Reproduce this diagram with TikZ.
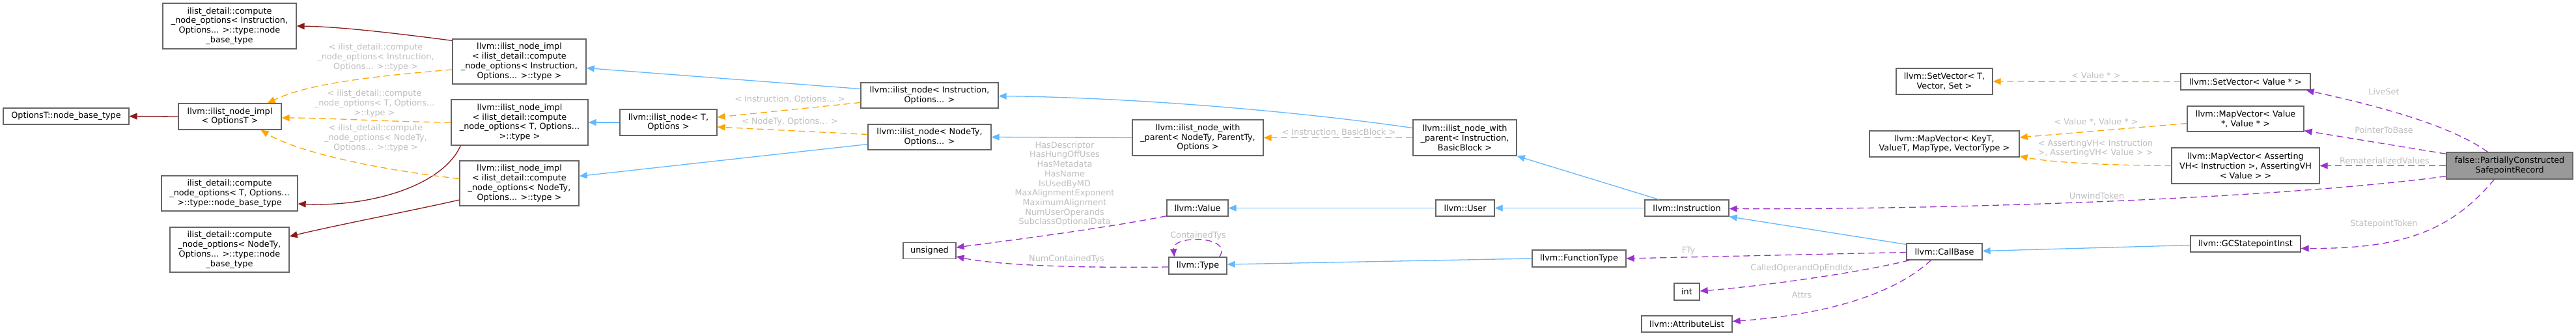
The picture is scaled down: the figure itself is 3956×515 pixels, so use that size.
\documentclass[tikz,border=0pt]{standalone}
\usepackage{fontspec}
\usepackage{tikz}
\usetikzlibrary{arrows.meta,calc}
\newfontfamily\dvs{DejaVu Sans}
\definecolor{boxline}{RGB}{102,102,102}
\definecolor{boxfocus}{RGB}{153,153,153}
\definecolor{inhblue}{RGB}{99,184,255}
\definecolor{tplorange}{RGB}{255,165,0}
\definecolor{usepurple}{RGB}{154,50,205}
\definecolor{nodered}{RGB}{139,26,26}
\definecolor{lblgrey}{RGB}{190,190,190}

\begin{document}
\begin{tikzpicture}[x=1pt,y=-1pt,
  >={Triangle[length=12pt,width=10pt]},
  cls/.style={draw=boxline,fill=white,line width=1.3pt,inner sep=0pt,align=center,
    font=\dvs\fontsize{12.8}{14.8}\selectfont},
  lbl/.style={text=lblgrey,inner sep=0pt,align=center,
    font=\dvs\fontsize{12.8}{14.7}\selectfont},
  inh/.style={->,inhblue,line width=1.3pt},
  tpl/.style={->,tplorange,line width=1.3pt,dash pattern=on 10pt off 6pt},
  usg/.style={->,usepurple,line width=1.3pt,dash pattern=on 10pt off 6pt},
  nbt/.style={->,nodered,line width=1.3pt}]
  \useasboundingbox (0,0) rectangle (3956,515);
  \foreach \nm/\xx/\yy/\ww/\hh/\txt in {%
     cnoI/352.5/40/205/70/{ilist\_detail::compute\\\_node\_options< Instruction,\\Options... >::type::node\\\_base\_type},
     OptionsT/101.5/178.5/193/25/{OptionsT::node\_base\_type},
     implO/353/179/158/40/{llvm::ilist\_node\_impl\\< OptionsT >},
     cnoT/352.5/297/209/54/{ilist\_detail::compute\\\_node\_options< T, Options...\\>::type::node\_base\_type},
     cnoN/352.5/383.5/183/69/{ilist\_detail::compute\\\_node\_options< NodeTy,\\Options... >::type::node\\\_base\_type},
     implI/797.5/94.5/205/69/{llvm::ilist\_node\_impl\\< ilist\_detail::compute\\\_node\_options< Instruction,\\Options... >::type >},
     implT/798/188/210/70/{llvm::ilist\_node\_impl\\< ilist\_detail::compute\\\_node\_options< T, Options...\\>::type >},
     inTO/1026.5/188/149/40/{llvm::ilist\_node< T,\\Options >},
     implN/797.5/281.5/183/69/{llvm::ilist\_node\_impl\\< ilist\_detail::compute\\\_node\_options< NodeTy,\\Options... >::type >},
     inIO/1427.5/146.5/211/39/{llvm::ilist\_node< Instruction,\\Options... >},
     inNO/1427.5/210.5/189/39/{llvm::ilist\_node< NodeTy,\\Options... >},
     inwpN/1839.5/211.5/201/55/{llvm::ilist\_node\_with\\\_parent< NodeTy, ParentTy,\\Options >},
     Value/1839/319.5/94/25/{llvm::Value},
     unsigned/1427.5/385/81/25/{unsigned},
     Type/1839.5/408/89/26/{llvm::Type},
     inwpI/2249.5/211.5/159/55/{llvm::ilist\_node\_with\\\_parent< Instruction,\\BasicBlock >},
     User/2250/319.5/90/25/{llvm::User},
     FunctionType/2425/397/144/26/{llvm::FunctionType},
     Instruction/2590.5/319.5/129/25/{llvm::Instruction},
     int/2590.5/448/39/26/{int},
     AttributeList/2590.5/497.5/139/25/{llvm::AttributeList},
     SetVecT/2986/125/148/40/{llvm::SetVector< T,\\Vector, Set >},
     MapVecK/2986/221/230/40/{llvm::MapVector< KeyT,\\ValueT, MapType, VectorType >},
     CallBase/2986/386.5/116/25/{llvm::CallBase},
     SetVecV/3448.5/125.5/199/25/{llvm::SetVector< Value * >},
     MapVecV/3448.5/182.5/179/39/{llvm::MapVector< Value\\*, Value * >},
     MapVecAVH/3448.5/254.5/227/55/{llvm::MapVector< Asserting\\VH< Instruction >, AssertingVH\\< Value > >},
     GCSI/3448.5/374.5/169/25/{llvm::GCStatepointInst}}
     \node[cls,minimum width=\ww,minimum height=\hh] (\nm) at (\xx,\yy) {\txt};
  \node[cls,fill=boxfocus,minimum width=194,minimum height=41] (PCSR) at (3854,254.5)
     {false::PartiallyConstructed\\SafepointRecord};
  \foreach \nm/\xx/\yy/\txt in {%
     lcnoI/577/88/{< ilist\_detail::compute\\\_node\_options< Instruction,\\Options... >::type >},
     lcnoT/575/159/{< ilist\_detail::compute\\\_node\_options< T, Options...\\>::type >},
     lcnoN/577/212/{< ilist\_detail::compute\\\_node\_options< NodeTy,\\Options... >::type >},
     lIO/1213/153/{< Instruction, Options... >},
     lNO/1213/187/{< NodeTy, Options... >},
     lIB/2056/203/{< Instruction, BasicBlock >},
     lbits/1635/282.5/{HasDescriptor\\HasHungOffUses\\HasMetadata\\HasName\\IsUsedByMD\\MaxAlignmentExponent\\MaximumAlignment\\NumUserOperands\\SubclassOptionalData},
     lCT/1840/362/{ContainedTys},
     lNCT/1638/398/{NumContainedTys},
     lFTy/2593/385/{FTy},
     lCOE/2767/412/{CalledOperandOpEndIdx},
     lAttrs/2767/453/{Attrs},
     lVal/3219/116/{< Value * >},
     lVV/3219/187/{< Value *, Value * >},
     lAVH/3218/228/{< AssertingVH< Instruction\\>, AssertingVH< Value > >},
     lUT/3220/301/{UnwindToken},
     lLS/3661/141/{LiveSet},
     lPB/3661/200/{PointerToBase},
     lRV/3662/247/{RematerializedValues},
     lST/3661/344/{StatepointToken}}
     \node[lbl] (\nm) at (\xx,\yy) {\txt};
  \draw[nbt] (implO.west) -- (OptionsT.east);
  \draw[nbt] ($(implI.north west)+(0,3)$) .. controls (600,50) and (520,41) .. (cnoI.east);
  \draw[nbt] ($(implT.south west)+(15,0)$) .. controls (680,285) and (570,318) .. ($(cnoT.east)+(0,16)$);
  \draw[nbt] ($(implN.west)+(0,25.5)$) .. controls (640,322) and (520,345) .. ($(cnoN.east)+(0,-20.5)$);
  \draw[tpl] ($(implI.west)+(0,12.5)$) .. controls (560,118) and (470,130) .. ($(implO.north east)+(-22,0)$);
  \draw[tpl] (implT.west) .. controls (600,187) and (500,181) .. ($(implO.east)+(0,2)$);
  \draw[tpl] ($(implN.west)+(0,-7)$) .. controls (560,258) and (450,230) .. ($(implO.south east)+(-32,0)$);
  \draw[tpl] ($(inIO.west)+(0,11)$) -- ($(inTO.east)+(0,-8)$);
  \draw[tpl] ($(inNO.west)+(0,-4)$) -- ($(inTO.east)+(0,7)$);
  \draw[tpl] (inwpI.west) -- (inwpN.east);
  \draw[tpl] (SetVecV.west) -- (SetVecT.east);
  \draw[tpl] ($(MapVecV.west)+(0,7)$) -- ($(MapVecK.east)+(0,-10)$);
  \draw[tpl] (MapVecAVH.west) .. controls (3250,254) and (3150,250) .. ($(MapVecK.south east)+(0,-2)$);
  \draw[inh] ($(inIO.west)+(0,-10)$) -- ($(implI.east)+(0,10)$);
  \draw[inh] (inTO.west) -- (implT.east);
  \draw[inh] ($(inNO.west)+(0,11)$) -- ($(implN.east)+(0,-11)$);
  \draw[inh] ($(inwpI.west)+(0,-15)$) .. controls (2000,172) and (1750,150) .. ($(inIO.east)+(0,1)$);
  \draw[inh] (inwpN.west) -- (inNO.east);
  \draw[inh] ($(Instruction.north west)+(22,0)$) -- (inwpI.south east);
  \draw[inh] (User.west) -- (Value.east);
  \draw[inh] (Instruction.west) -- (User.east);
  \draw[inh] (FunctionType.west) -- ($(Type.east)+(0,-2)$);
  \draw[inh] ($(CallBase.north west)+(0,2)$) -- (Instruction.south east);
  \draw[inh] ($(GCSI.west)+(0,2)$) -- ($(CallBase.east)+(0,-1)$);
  \draw[usg] ($(Value.south west)+(0,-1)$) .. controls (1700,350) and (1560,368) .. ($(unsigned.east)+(0,-5)$);
  \draw[usg] ($(Type.west)+(0,2)$) .. controls (1620,412) and (1520,405) .. ($(unsigned.east)+(0,9)$);
  \draw[usg] ($(Type.north east)+(-12,0)$) .. controls (1895,362) and (1800,360) .. ($(Type.north west)+(9,0)$);
  \draw[usg] ($(CallBase.west)+(0,1)$) -- (FunctionType.east);
  \draw[usg] ($(CallBase.south west)+(5,0)$) .. controls (2850,420) and (2700,440) .. ($(int.east)+(0,-1)$);
  \draw[usg] ($(CallBase.south west)+(38,0)$) .. controls (2900,460) and (2780,485) .. ($(AttributeList.east)+(0,-4)$);
  \draw[usg] ($(PCSR.south west)+(0,-5)$) .. controls (3500,305) and (3000,322) .. ($(Instruction.east)+(0,1)$);
  \draw[usg] ($(PCSR.north west)+(64,0)$) .. controls (3760,190) and (3640,160) .. ($(SetVecV.south east)+(-7,0)$);
  \draw[usg] ($(PCSR.north west)+(0,3)$) -- ($(MapVecV.south east)+(0,-2)$);
  \draw[usg] (PCSR.west) -- (MapVecAVH.east);
  \draw[usg] ($(PCSR.south west)+(74,0)$) .. controls (3760,360) and (3680,382) .. ($(GCSI.east)+(0,7)$);
\end{tikzpicture}
\end{document}
